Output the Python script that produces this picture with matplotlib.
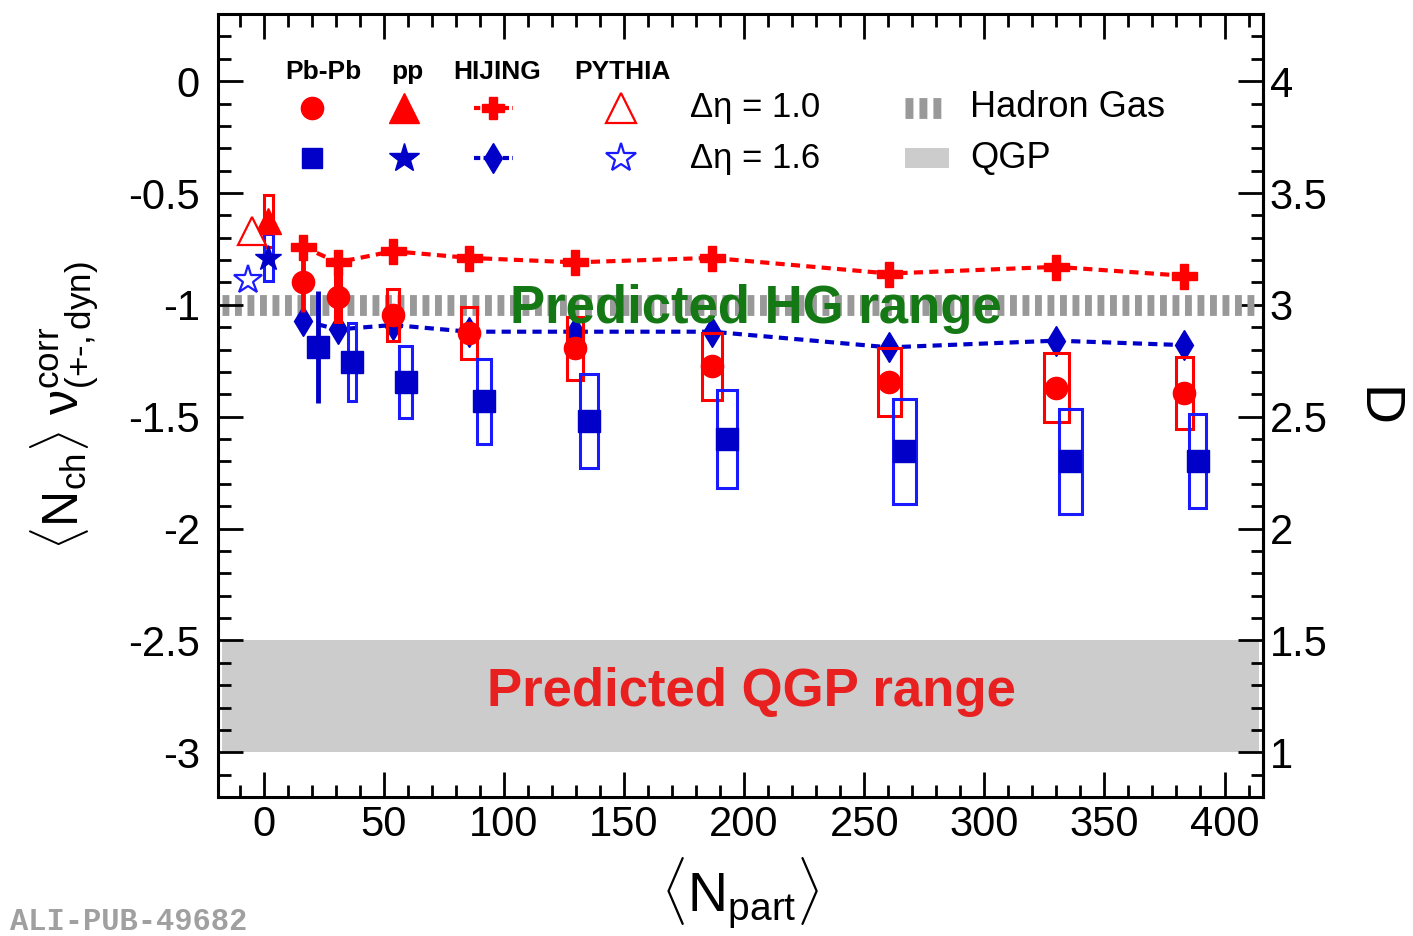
# charge balance fluctuations vs centrality, Pb-Pb / pp / HIJING / PYTHIA

from matplotlib import pyplot as plt
from matplotlib.patches import Rectangle
from matplotlib.ticker import MultipleLocator, FixedLocator, FuncFormatter
import numpy as np

# Pb-Pb, delta eta = 1.0
npart_10 = [16.3, 30.8, 53.8, 85.4, 129.6, 186.7, 260.4, 330.0, 383.3]
nu_10 = [-0.90, -0.965, -1.045, -1.125, -1.195, -1.275, -1.345, -1.37, -1.395]
stat_10 = [0.13, 0.11, 0.02, 0.02, 0.02, 0.02, 0.02, 0.02, 0.02]
sys_10 = [0.0, 0.11, 0.115, 0.115, 0.14, 0.15, 0.15, 0.155, 0.16]
boxw_10 = [0.0, 2.5, 5.0, 6.7, 7.0, 8.3, 9.6, 10.4, 7.0]

# Pb-Pb, delta eta = 1.6
npart_16 = [22.5, 36.7, 59.2, 91.7, 135.4, 192.9, 266.7, 335.8, 388.8]
nu_16 = [-1.19, -1.255, -1.345, -1.43, -1.52, -1.60, -1.655, -1.70, -1.70]
stat_16 = [0.25, 0.02, 0.02, 0.02, 0.02, 0.02, 0.02, 0.02, 0.02]
sys_16 = [0.0, 0.175, 0.16, 0.19, 0.21, 0.22, 0.235, 0.235, 0.21]
boxw_16 = [0.0, 3.3, 5.4, 5.8, 7.5, 8.3, 9.6, 9.6, 7.0]

# HIJING
hij_10 = [-0.74, -0.81, -0.76, -0.79, -0.81, -0.79, -0.86, -0.83, -0.87]
hij_16 = [-1.07, -1.11, -1.09, -1.12, -1.12, -1.12, -1.19, -1.16, -1.18]

# pp
pp_x = [2.0]
pp_10 = [-0.625]
pp_10_sys = [0.115]
pp_16 = [-0.79]
pp_16_sys = [0.105]

# PYTHIA
py_x = [-5.0, -6.5]
py_10 = [-0.67]
py_16 = [-0.89]

# predictions
hg_level = -1.0
qgp_range = (-3.0, -2.5)
d_ticks = [1, 1.5, 2, 2.5, 3, 3.5, 4]

red = '#ff0000'
blue = '#0000c8'
blue_box = '#1a1aff'

plt.rcParams['font.family'] = ['Liberation Sans', 'DejaVu Sans']
plt.rcParams['mathtext.fontset'] = 'custom'
plt.rcParams['mathtext.rm'] = 'Liberation Sans'
plt.rcParams['mathtext.it'] = 'Liberation Sans'
plt.rcParams['mathtext.bf'] = 'Liberation Sans:bold'
plt.rcParams['axes.unicode_minus'] = False

fig = plt.figure(figsize=(14.13, 9.36), dpi=100)
ax = fig.add_axes([0.1543, 0.1485, 0.7395, 0.8365])

# predicted ranges
ax.axhspan(qgp_range[0], qgp_range[1], xmin=0.004, xmax=0.996, color='#cccccc', lw=0, zorder=0)
ax.axhline(hg_level, xmin=0.004, xmax=0.996, color='#999999', lw=15, dashes=(0.33, 0.27),
           solid_capstyle='butt', dash_capstyle='butt', zorder=1)

ax.text(205, hg_level - 0.02, 'Predicted HG range', color='#147814', fontsize=38, weight='bold',
        ha='center', va='center', zorder=6)
ax.text(203, -2.73, 'Predicted QGP range', color='#e8201f', fontsize=38, weight='bold',
        ha='center', va='center', zorder=6)

# HIJING
ax.plot(npart_10, hij_10, color=red, lw=3, dashes=(2.2, 1.5), marker='P', ms=18, zorder=3)
ax.plot(npart_10, hij_16, color=blue, lw=3, dashes=(2.2, 1.5), marker='d', ms=15, zorder=3)

# systematic boxes
for x, y, s, w in zip(npart_10, nu_10, sys_10, boxw_10):
    if s > 0:
        ax.add_patch(Rectangle((x - w / 2, y - s), w, 2 * s, fill=False, ec=red, lw=2.2, zorder=4))
for x, y, s, w in zip(npart_16, nu_16, sys_16, boxw_16):
    if s > 0:
        ax.add_patch(Rectangle((x - w / 2, y - s), w, 2 * s, fill=False, ec=blue_box, lw=2.2, zorder=4))
for x, y, s in zip(pp_x, pp_10, pp_10_sys):
    ax.add_patch(Rectangle((x - 2, y - s), 4, 2 * s, fill=False, ec=red, lw=2.2, zorder=4))
for x, y, s in zip(pp_x, pp_16, pp_16_sys):
    ax.add_patch(Rectangle((x - 2, y - s), 4, 2 * s, fill=False, ec=blue_box, lw=2.2, zorder=4))

# Pb-Pb data
ax.errorbar(npart_10, nu_10, yerr=stat_10, fmt='o', color=red, ms=16, elinewidth=3.5, capsize=0, zorder=5)
ax.errorbar(npart_16, nu_16, yerr=stat_16, fmt='s', color=blue, ms=16, elinewidth=3.5, capsize=0, zorder=5)

# pp data
ax.plot(pp_x, pp_10, '^', color=red, ms=19, zorder=5)
ax.plot(pp_x, pp_16, '*', color=blue, ms=19, zorder=5)

# PYTHIA
ax.plot(py_x[:1], py_10, '^', mfc='white', mec=red, mew=1.6, ms=20, zorder=5)
ax.plot(py_x[1:], py_16, '*', mfc='white', mec=blue_box, mew=1.6, ms=21, zorder=5)

# legend, drawn by hand
heads = ['Pb-Pb', 'pp', 'HIJING', 'PYTHIA']
head_x = [0.1005, 0.181, 0.267, 0.387]
for h, hx in zip(heads, head_x):
    ax.text(hx, 0.926, h, transform=ax.transAxes, fontsize=19, weight='bold', ha='center', va='center')
r1, r2 = 0.880, 0.816
ax.plot(0.090, r1, 'o', color=red, ms=16, transform=ax.transAxes)
ax.plot(0.090, r2, 's', color=blue, ms=15, transform=ax.transAxes)
ax.plot(0.178, r1, '^', color=red, ms=21, transform=ax.transAxes)
ax.plot(0.178, r2, '*', color=blue, ms=22, transform=ax.transAxes)
ax.plot([0.245, 0.282], [r1, r1], color=red, lw=3, dashes=(1.5, 0.8), transform=ax.transAxes)
ax.plot(0.263, r1, 'P', color=red, ms=16, transform=ax.transAxes)
ax.plot([0.245, 0.282], [r2, r2], color=blue, lw=3, dashes=(1.5, 0.8), transform=ax.transAxes)
ax.plot(0.263, r2, 'd', color=blue, ms=15, transform=ax.transAxes)
ax.plot(0.386, r1, '^', mfc='white', mec=red, mew=1.6, ms=21, transform=ax.transAxes)
ax.plot(0.386, r2, '*', mfc='white', mec=blue_box, mew=1.6, ms=22, transform=ax.transAxes)
ax.text(0.452, r1, 'Δη = 1.0', transform=ax.transAxes, fontsize=25, va='center')
ax.text(0.452, r2, 'Δη = 1.6', transform=ax.transAxes, fontsize=25, va='center')
ax.plot([0.657, 0.696], [r1, r1], color='#999999', lw=15, dashes=(0.38, 0.29),
        dash_capstyle='butt', transform=ax.transAxes)
ax.text(0.72, r1, 'Hadron Gas', transform=ax.transAxes, fontsize=26, va='center')
ax.add_patch(Rectangle((0.657, r2 - 0.0128), 0.043, 0.0256, color='#cccccc', lw=0, transform=ax.transAxes))
ax.text(0.72, r2, 'QGP', transform=ax.transAxes, fontsize=26, va='center')

# axes
ax.set_xlim(-19, 416)
ax.set_ylim(-3.2, 0.3)
ax.xaxis.set_major_locator(MultipleLocator(50))
ax.xaxis.set_minor_locator(MultipleLocator(10))
ax.yaxis.set_major_locator(MultipleLocator(0.5))
ax.yaxis.set_minor_locator(MultipleLocator(0.1))
ax.yaxis.set_major_formatter(FuncFormatter(lambda v, p: '%g' % (v + 0.0)))
ax.tick_params(which='both', direction='in', top=True, right=False, width=2, labelsize=30)
ax.tick_params(which='major', length=18)
ax.tick_params(which='minor', length=9)
ax.tick_params(axis='y', pad=13)
ax.tick_params(axis='x', pad=6)
for sp in ax.spines.values():
    sp.set_linewidth(2.2)

sec = ax.secondary_yaxis('right', functions=(lambda y: y + 4, lambda d: d - 4))
sec.yaxis.set_major_locator(FixedLocator(d_ticks))
sec.yaxis.set_minor_locator(MultipleLocator(0.1))
sec.tick_params(which='both', direction='in', width=2, labelsize=30, pad=5)
sec.tick_params(which='major', length=18)
sec.tick_params(which='minor', length=9)
sec.yaxis.set_major_formatter(FuncFormatter(lambda v, p: '%g' % v))
sec.spines['right'].set_linewidth(2.2)

ax.set_ylabel(r'$\langle\mathrm{N}_{\mathrm{ch}}\rangle\ \mathrm{ν}^{\mathrm{corr}}_{\mathrm{(}{+}{‐}\mathrm{,dyn)}}$',
              fontsize=36)
ax.yaxis.set_label_coords(-0.112, 0.5)
ax.set_xlabel(r'$\langle\mathrm{N}_{\mathrm{part}}\rangle$', fontsize=40)
ax.xaxis.set_label_coords(0.5, -0.074)
fig.text(1375 / 1413, 1 - 407 / 936, 'D', rotation=-90, fontsize=40, ha='center', va='center')

fig.text(10 / 1413, 1 - 922 / 936, 'ALI-PUB-49682', family='Liberation Mono', weight='bold',
         color='#a0a0a0', fontsize=22, va='center')

plt.savefig('out.png', dpi=100)
plt.close()
